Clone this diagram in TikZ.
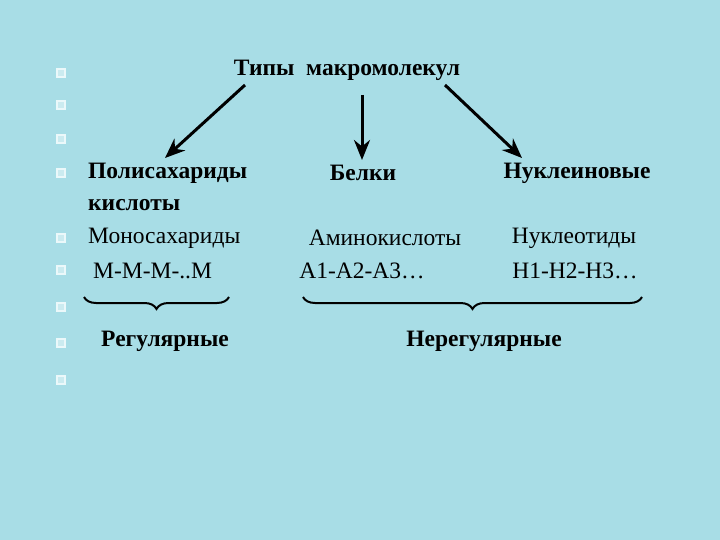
\documentclass[tikz,border=0pt]{standalone}
\usepackage{fontspec}
\setmainfont{Liberation Serif}
\usetikzlibrary{arrows.meta,decorations.pathreplacing}
\definecolor{bg}{RGB}{168,221,230}
\definecolor{bul}{RGB}{235,248,250}
\tikzset{
 txt/.style={font=\fontsize{23.5}{26}\selectfont, inner sep=0pt},
 btxt/.style={font=\fontsize{23.5}{26}\selectfont\bfseries, inner sep=0pt},
 arr/.style={line width=3pt,-{Stealth[length=20pt,width=16pt]}},
 bul/.style={draw=bul,fill=bg!60!white,line width=1.2pt,minimum size=8pt,inner sep=0pt},
 br/.style={decorate,decoration={brace,amplitude=12pt,mirror},line width=2pt}
}
\begin{document}
\begin{tikzpicture}[x=1pt,y=-1pt]
\fill[bg] (0,0) rectangle (720,540);
\useasboundingbox (0,0) rectangle (720,540);
\foreach \i/\yy in {1/73,2/105,3/139,4/173,5/238,6/270,7/307,8/343,9/380}
  \node[bul] (b\i) at (61,\yy) {};
\node[btxt] (title) at (347,70) {Типы \ макромолекул};
\node[btxt,anchor=west] (poly) at (88,173) {Полисахариды};
\node[btxt,anchor=west] (kisl) at (88,205) {кислоты};
\node[txt,anchor=west] (mono) at (88,238) {Моносахариды};
\node[txt,anchor=west] (mmm) at (93,271) {М-М-М-..М};
\node[btxt] (bel) at (363,173) {Белки};
\node[txt] (amino) at (385,238) {Аминокислоты};
\node[txt] (aaa) at (362,271) {А1-А2-А3…};
\node[btxt] (nukl) at (577,173) {Нуклеиновые};
\node[txt] (nukt) at (574,238) {Нуклеотиды};
\node[txt] (hhh) at (575,271) {Н1-Н2-Н3…};
\node[btxt] (reg) at (165,341) {Регулярные};
\node[btxt] (nereg) at (484,341) {Нерегулярные};
\coordinate (s1) at (245,85); \coordinate (e1) at (165,158);
\coordinate (s2) at (362,95); \coordinate (e2) at (362,160);
\coordinate (s3) at (445,85); \coordinate (e3) at (522,158);
\draw[arr] (s1) -- (e1);
\draw[arr] (s2) -- (e2);
\draw[arr] (s3) -- (e3);
\coordinate (l1) at (84,297); \coordinate (l2) at (229,297);
\coordinate (r1) at (303,297); \coordinate (r2) at (642,297);
\draw[br] (l1) -- (l2);
\draw[br] (r1) -- (r2);
\end{tikzpicture}
\end{document}
